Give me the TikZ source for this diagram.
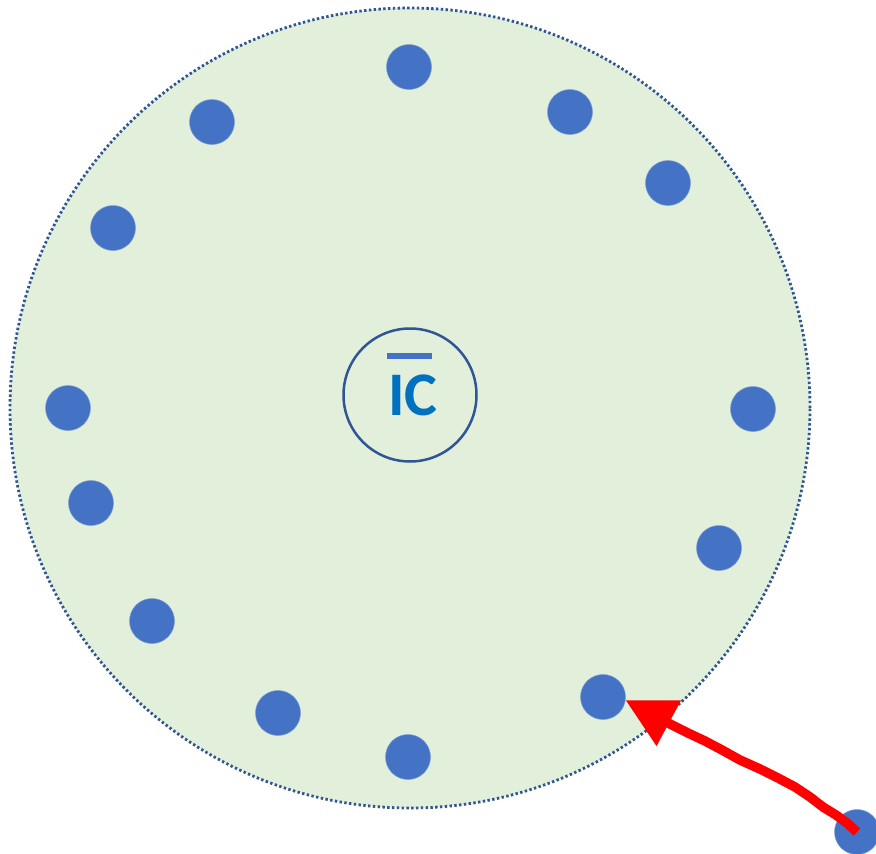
\documentclass[tikz,border=0pt]{standalone}
\usepackage{fontspec}
\setmainfont{Carlito}
\usepackage{xcolor}
\usetikzlibrary{arrows.meta}

\definecolor{ringfill}{HTML}{E2EFDA}
\definecolor{ringline}{HTML}{2F5597}
\definecolor{dotblue}{HTML}{4472C4}
\definecolor{textblue}{HTML}{0070C0}
\definecolor{arrowred}{HTML}{FF0000}

\tikzset{
  electron/.style={circle, fill=dotblue, draw=dotblue!70!white, line width=0.5pt,
    minimum size=45pt, inner sep=0pt},
  shell/.style={circle, fill=ringfill, draw=ringline, line width=2.8pt,
    dash pattern=on 2.4pt off 2.4pt, minimum size=800pt, inner sep=0pt},
  kernel/.style={circle, draw=ringline, line width=2.5pt, minimum size=133pt, inner sep=0pt},
}

\begin{document}
\begin{tikzpicture}[x=1pt,y=-1pt]
\path[use as bounding box, clip] (0,0) rectangle (876,854);

\node (ring) at (410,408) [shell] {};
\node (core) at (410,395) [kernel] {};
\node (ic) at (413,395) [text=textblue, inner sep=0pt,
  font=\fontsize{62}{62}\selectfont\bfseries] {IC};
\draw[dotblue, line width=6pt] (387,356) -- (432,356);

\node (e1) at (409,67) [electron] {};
\node (e2) at (570,112) [electron] {};
\node (e3) at (668,183) [electron] {};
\node (e4) at (212,122) [electron] {};
\node (e5) at (113,228) [electron] {};
\node (e6) at (68,408) [electron] {};
\node (e7) at (753,409) [electron] {};
\node (e8) at (91,503) [electron] {};
\node (e9) at (719,548) [electron] {};
\node (e10) at (152,621) [electron] {};
\node (e11) at (603,697) [electron] {};
\node (e12) at (278,713) [electron] {};
\node (e13) at (408,757) [electron] {};
\node (stray) at (857,832) [electron] {};

\draw[arrowred, line width=9.5pt, line join=round,
  -{Triangle[length=49pt,width=49pt]}]
  (stray.center) -- (847,823) -- (836,815) -- (823,807) -- (810,797)
  -- (795,787) -- (778,778) -- (760,769) -- (740,760) -- (722,750)
  -- (705,741) -- (688,733) -- (672,725) -- (e11.-8);
\end{tikzpicture}
\end{document}
